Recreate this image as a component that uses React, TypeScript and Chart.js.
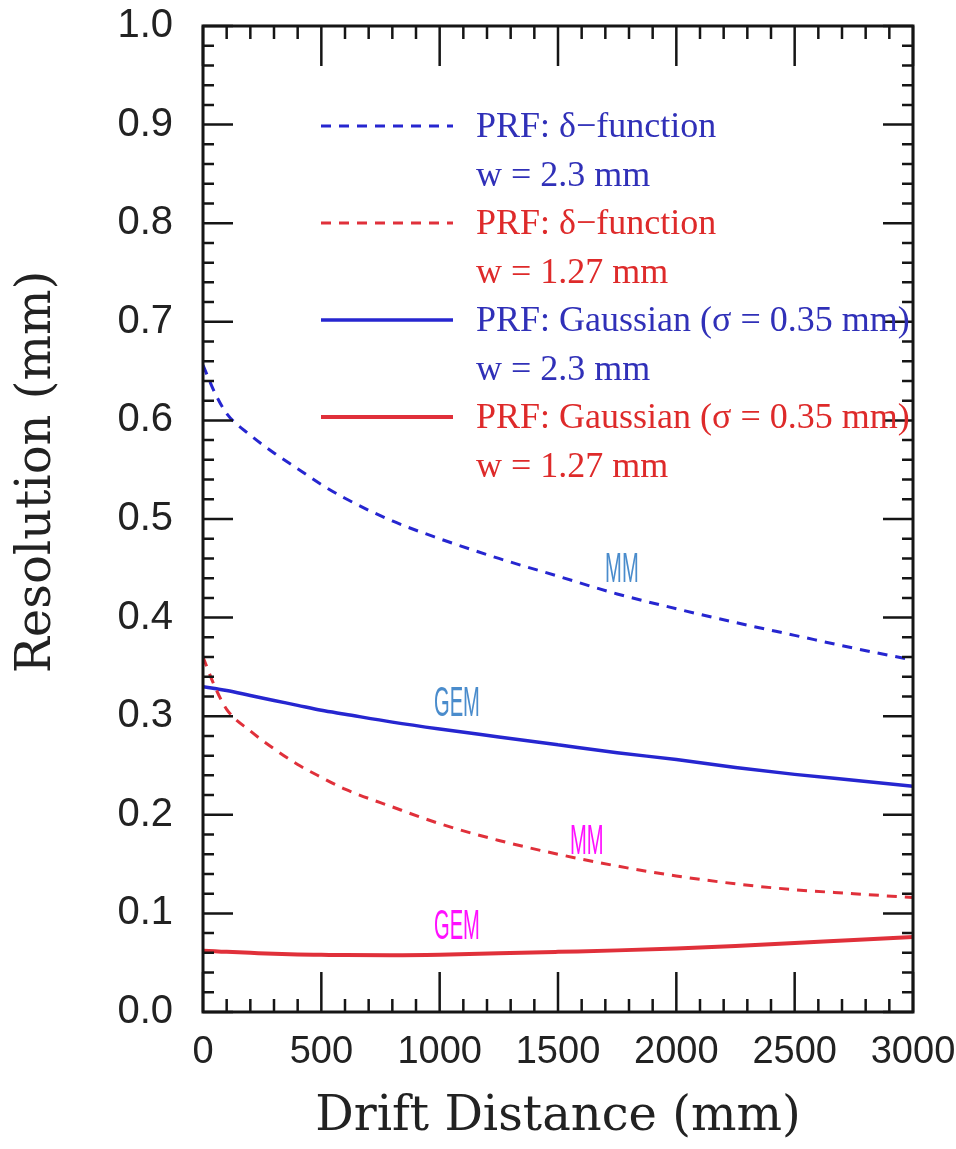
import React, { useEffect, useRef } from "react";
import { Chart, registerables } from "chart.js";

Chart.register(...registerables);

// ---- data ----
const DRIFT = [0, 50, 100, 200, 300, 400, 500, 600, 800, 1000, 1250, 1500, 1750, 2000, 2250, 2500, 2750, 3000];
const DELTA_W23 = [0.656, 0.628, 0.607, 0.585, 0.567, 0.551, 0.535, 0.521, 0.498, 0.48, 0.46, 0.442, 0.424, 0.409, 0.395, 0.382, 0.369, 0.357];
const DELTA_W127 = [0.36, 0.33, 0.307, 0.285, 0.267, 0.251, 0.238, 0.226, 0.208, 0.191, 0.174, 0.16, 0.148, 0.138, 0.13, 0.124, 0.12, 0.116];
const GAUSS_W23 = [0.33, 0.328, 0.326, 0.321, 0.316, 0.311, 0.306, 0.302, 0.294, 0.287, 0.279, 0.271, 0.263, 0.256, 0.248, 0.241, 0.235, 0.229];
const GAUSS_W127 = [0.062, 0.0615, 0.061, 0.06, 0.059, 0.0583, 0.058, 0.0577, 0.0575, 0.058, 0.0595, 0.061, 0.0625, 0.0645, 0.067, 0.07, 0.073, 0.076];

const LEGEND_TITLES = ["PRF: δ−function", "PRF: δ−function", "PRF: Gaussian (σ = 0.35 mm)", "PRF: Gaussian (σ = 0.35 mm)"];
const LEGEND_WIDTHS = ["w = 2.3 mm", "w = 1.27 mm", "w = 2.3 mm", "w = 1.27 mm"];

const ANNOT_TEXT = ["MM", "GEM", "MM", "GEM"];
const ANNOT_X = [1770, 1073, 1622, 1073];
const ANNOT_Y = [0.45, 0.314, 0.174, 0.088];

const X_TITLE = "Drift Distance (mm)";
const Y_TITLE = "Resolution (mm)";

// ---- styles ----
const BLUE = "#2626d0";
const RED = "#e0303a";
const BLUE_TEXT = "#3030b8";
const RED_TEXT = "#de2a2a";
const ANNOT_COLORS = ["#4a8ccc", "#4a8ccc", "#ff10ff", "#ff10ff"];
const SERIES_COLORS = [BLUE, RED, BLUE, RED];
const SERIES_DASH = [[10, 8], [10, 8], [], []];
const SERIES_WIDTH = [3, 3, 3.5, 4];

const framePlugin = {
  id: "frameTicks",
  afterDatasetsDraw(chart: any) {
    const { ctx, chartArea: a, scales } = chart;
    const x = scales.x;
    const y = scales.y;
    ctx.save();
    ctx.strokeStyle = "#151515";
    ctx.lineWidth = 2.5;
    ctx.beginPath();
    for (let v = 0; v <= 3000; v += 100) {
      const px = x.getPixelForValue(v);
      const len = v % 500 === 0 ? 40 : 13;
      ctx.moveTo(px, a.bottom);
      ctx.lineTo(px, a.bottom - len);
      ctx.moveTo(px, a.top);
      ctx.lineTo(px, a.top + len);
    }
    for (let i = 0; i <= 50; i++) {
      const py = y.getPixelForValue(i * 0.02);
      const len = i % 5 === 0 ? 30 : 11;
      ctx.moveTo(a.left, py);
      ctx.lineTo(a.left + len, py);
      ctx.moveTo(a.right, py);
      ctx.lineTo(a.right - len, py);
    }
    ctx.stroke();
    ctx.lineWidth = 3;
    ctx.strokeRect(a.left, a.top, a.right - a.left, a.bottom - a.top);

    // annotations
    ctx.textAlign = "center";
    ctx.textBaseline = "middle";
    ctx.font = "42px 'Liberation Sans'";
    for (let i = 0; i < ANNOT_TEXT.length; i++) {
      const px = x.getPixelForValue(ANNOT_X[i]);
      const py = y.getPixelForValue(ANNOT_Y[i]);
      ctx.save();
      ctx.translate(px, py);
      ctx.scale(0.48, 1);
      ctx.fillStyle = ANNOT_COLORS[i];
      ctx.fillText(ANNOT_TEXT[i], 0, 2);
      ctx.restore();
    }

    // legend
    const lx0 = a.left + 118;
    const lx1 = a.left + 250;
    const tx = a.left + 273;
    const rowTop = a.top + 100;
    const step = 97;
    for (let i = 0; i < LEGEND_TITLES.length; i++) {
      const ly = rowTop + i * step;
      ctx.save();
      ctx.strokeStyle = SERIES_COLORS[i];
      ctx.lineWidth = SERIES_WIDTH[i];
      ctx.setLineDash(SERIES_DASH[i]);
      ctx.beginPath();
      ctx.moveTo(lx0, ly);
      ctx.lineTo(lx1, ly);
      ctx.stroke();
      ctx.restore();
      ctx.fillStyle = i % 2 === 0 ? BLUE_TEXT : RED_TEXT;
      ctx.font = "36px 'Liberation Serif'";
      ctx.textAlign = "left";
      ctx.textBaseline = "middle";
      ctx.fillText(LEGEND_TITLES[i], tx, ly + 2);
      ctx.fillText(LEGEND_WIDTHS[i], tx, ly + 51);
    }

    // y title
    ctx.save();
    ctx.fillStyle = "#222";
    ctx.font = "48px 'DejaVu Serif'";
    ctx.textAlign = "center";
    ctx.textBaseline = "middle";
    ctx.translate(38, 472);
    ctx.rotate(-Math.PI / 2);
    ctx.fillText(Y_TITLE, 0, 0);
    ctx.restore();

    ctx.restore();
  },
};

export default function App() {
  const ref = useRef<HTMLCanvasElement | null>(null);
  useEffect(() => {
    if (!ref.current) return;
    const series = [DELTA_W23, DELTA_W127, GAUSS_W23, GAUSS_W127];
    const chart = new Chart(ref.current, {
      type: "line",
      data: {
        datasets: series.map((s, k) => ({
          label: LEGEND_TITLES[k] + " " + LEGEND_WIDTHS[k],
          data: DRIFT.map((d, i) => ({ x: d, y: s[i] })),
          borderColor: SERIES_COLORS[k],
          borderWidth: SERIES_WIDTH[k],
          borderDash: SERIES_DASH[k],
          pointRadius: 0,
          fill: false,
          tension: 0.4,
          cubicInterpolationMode: "monotone",
        })),
      },
      options: {
        responsive: false,
        animation: false,
        devicePixelRatio: 1,
        layout: { padding: { top: 26, right: 43, left: 0, bottom: 0 } },
        plugins: { legend: { display: false }, tooltip: { enabled: false } },
        scales: {
          x: {
            type: "linear",
            min: 0,
            max: 3000,
            grid: { display: false, drawTicks: false },
            border: { display: false },
            ticks: {
              stepSize: 500,
              autoSkip: false,
              maxRotation: 0,
              padding: 18,
              color: "#222",
              font: { family: "'Liberation Sans'", size: 38 },
              callback: (v: any) => String(v),
            },
            title: {
              display: true,
              text: X_TITLE,
              color: "#222",
              font: { family: "'DejaVu Serif'", size: 48 },
              padding: { top: 0, bottom: 3 },
            },
            afterFit: (s: any) => {
              s.height = 137;
              s.paddingLeft = 0;
              s.paddingRight = 0;
              s.paddingTop = 0;
              s.paddingBottom = 0;
            },
          },
          y: {
            type: "linear",
            min: 0,
            max: 1,
            grid: { display: false, drawTicks: false },
            border: { display: false },
            ticks: {
              stepSize: 0.1,
              padding: 30,
              color: "#222",
              font: { family: "'Liberation Sans'", size: 40 },
              callback: (v: any) => Number(v).toFixed(1),
            },
            afterFit: (s: any) => {
              s.width = 203;
              s.paddingLeft = 0;
              s.paddingRight = 0;
              s.paddingTop = 0;
              s.paddingBottom = 0;
            },
          },
        },
      },
      plugins: [framePlugin],
    } as any);
    return () => chart.destroy();
  }, []);
  return (
    <div style={{ position: "absolute", left: 0, top: 0, width: 956, height: 1149, background: "#fff" }}>
      <canvas ref={ref} width={956} height={1149} />
    </div>
  );
}
